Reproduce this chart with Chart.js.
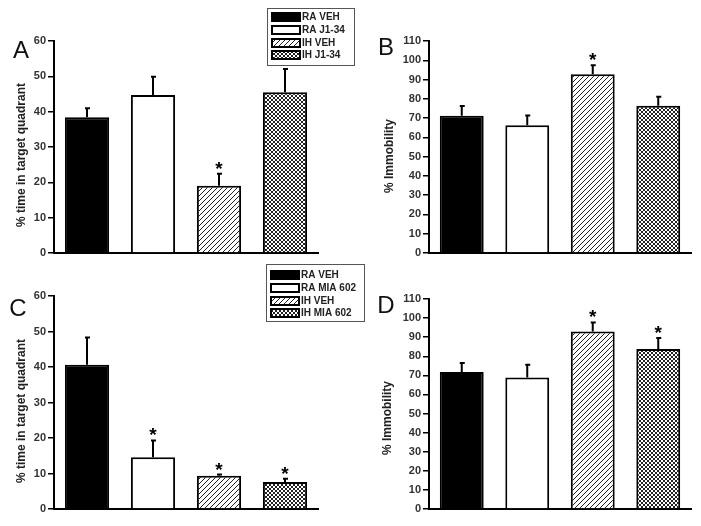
<!DOCTYPE html>
<html>
<head>
<meta charset="utf-8">
<script src="https://cdn.jsdelivr.net/npm/chart.js@4.4.1/dist/chart.umd.min.js"></script>
<style>
  body { margin: 0; background: #fff; width: 701px; height: 526px; position: relative; overflow: hidden; }
  canvas { position: absolute; }
</style>
</head>
<body>
<canvas id="panelA" width="370" height="263" style="left:0;top:0"></canvas>
<canvas id="panelC" width="370" height="263" style="left:0;top:263px"></canvas>
<canvas id="panelB" width="351" height="263" style="left:350px;top:0"></canvas>
<canvas id="panelD" width="351" height="263" style="left:350px;top:263px"></canvas>
<script>
// groups
const groupsJ134 = ['RA VEH', 'RA J1-34', 'IH VEH', 'IH J1-34'];
const groupsMia = ['RA VEH', 'RA MIA 602', 'IH VEH', 'IH MIA 602'];

// A: % time in target quadrant (J1-34)
const quadrantJ134 = [38.4, 44.7, 19.0, 45.5];
const quadrantJ134Err = [2.6, 5.2, 3.4, 6.6];
const quadrantJ134Sig = [false, false, true, false];

// B: % immobility (J1-34)
const immobilityJ134 = [71.2, 66.3, 92.7, 76.4];
const immobilityJ134Err = [5.1, 5.1, 4.7, 4.7];
const immobilityJ134Sig = [false, false, true, false];

// C: % time in target quadrant (MIA 602)
const quadrantMia = [40.6, 14.6, 9.4, 7.6];
const quadrantMiaErr = [7.7, 4.7, 0.3, 0.9];
const quadrantMiaSig = [false, true, true, true];

// D: % immobility (MIA 602)
const immobilityMia = [71.8, 68.9, 93.0, 83.8];
const immobilityMiaErr = [4.7, 6.7, 4.7, 5.8];
const immobilityMiaSig = [false, false, true, true];

// tick labels
const quadrantTicks = [0, 10, 20, 30, 40, 50, 60];
const immobilityTicks = [0, 10, 20, 30, 40, 50, 60, 70, 80, 90, 100, 110];

const FONT = '"Liberation Sans", Arial, sans-serif';

function makePattern(size, draw) {
  const c = document.createElement('canvas');
  c.width = size; c.height = size;
  const g = c.getContext('2d');
  g.fillStyle = '#fff';
  g.fillRect(0, 0, size, size);
  g.strokeStyle = '#222';
  g.lineWidth = 1;
  draw(g, size);
  return c.getContext('2d').createPattern(c, 'repeat');
}

const hatch = makePattern(5, (g, s) => {
  g.beginPath();
  g.moveTo(-1, s + 1); g.lineTo(s + 1, -1);
  g.moveTo(-1, 1); g.lineTo(1, -1);
  g.moveTo(s - 1, s + 1); g.lineTo(s + 1, s - 1);
  g.stroke();
});

const crossHatch = makePattern(4, (g, s) => {
  g.beginPath();
  g.moveTo(-1, s + 1); g.lineTo(s + 1, -1);
  g.moveTo(-1, -1); g.lineTo(s + 1, s + 1);
  g.stroke();
});

const barFills = ['#000', '#fff', hatch, crossHatch];

const extras = {
  id: 'extras',
  afterDatasetsDraw(chart, args, opts) {
    const ctx = chart.ctx;
    const y = chart.scales.y;
    const data = chart.data.datasets[0].data;
    ctx.save();
    chart.getDatasetMeta(0).data.forEach((bar, i) => {
      const top = y.getPixelForValue(data[i] + opts.errors[i]);
      ctx.strokeStyle = '#000';
      ctx.lineWidth = 2;
      ctx.beginPath();
      ctx.moveTo(bar.x, bar.y);
      ctx.lineTo(bar.x, top);
      ctx.moveTo(bar.x - 2, top);
      ctx.lineTo(bar.x + 3, top);
      ctx.stroke();
      if (opts.stars[i]) {
        ctx.fillStyle = '#000';
        ctx.font = 'bold 19px ' + FONT;
        ctx.textAlign = 'center';
        ctx.textBaseline = 'alphabetic';
        ctx.fillText('*', bar.x, top + 1);
      }
    });
    ctx.restore();
  },
  afterDraw(chart, args, opts) {
    const ctx = chart.ctx;
    ctx.save();
    // panel letter
    ctx.fillStyle = '#111';
    ctx.font = '24px ' + FONT;
    ctx.textAlign = 'center';
    ctx.textBaseline = 'middle';
    ctx.fillText(opts.letter.text, opts.letter.x, opts.letter.y);
    // y title
    ctx.translate(opts.title.x, opts.title.y);
    ctx.rotate(-Math.PI / 2);
    ctx.font = 'bold 12px ' + FONT;
    ctx.fillStyle = '#222';
    ctx.fillText(opts.title.text, 0, 0);
    ctx.restore();

    const lg = opts.legend;
    if (!lg) return;
    ctx.save();
    ctx.strokeStyle = '#555';
    ctx.lineWidth = 1;
    ctx.strokeRect(lg.x + 0.5, lg.y + 0.5, lg.w, lg.h);
    chart.data.labels.forEach((label, i) => {
      const cy = lg.rows[i];
      ctx.fillStyle = barFills[i];
      ctx.fillRect(lg.x + 5, cy - 4, 28, 8);
      ctx.strokeStyle = '#000';
      ctx.lineWidth = 2;
      ctx.strokeRect(lg.x + 5, cy - 4, 28, 8);
      ctx.fillStyle = '#222';
      ctx.font = 'bold 10px ' + FONT;
      ctx.textAlign = 'left';
      ctx.textBaseline = 'middle';
      ctx.fillText(label, lg.x + 35, cy + 0.5);
    });
    ctx.restore();
  }
};

function makePanel(id, labels, values, errors, stars, ticks, area, extraOpts) {
  const canvas = document.getElementById(id);
  const W = canvas.width, H = canvas.height;
  return new Chart(canvas, {
    type: 'bar',
    data: {
      labels: labels,
      datasets: [{
        data: values,
        backgroundColor: barFills,
        borderColor: '#000',
        borderWidth: 2,
        barPercentage: 0.67,
        categoryPercentage: 1
      }]
    },
    options: {
      responsive: false,
      animation: false,
      devicePixelRatio: 1,
      layout: { padding: { left: 0, top: area.top, right: W - area.right, bottom: H - area.bottom } },
      plugins: {
        legend: { display: false },
        tooltip: { enabled: false },
        extras: Object.assign({ errors: errors, stars: stars }, extraOpts)
      },
      scales: {
        x: {
          grid: { display: false },
          ticks: { display: false },
          border: { display: true, color: '#000', width: 2 },
          afterFit: s => { s.height = 0; }
        },
        y: {
          min: ticks[0],
          max: ticks[ticks.length - 1],
          ticks: {
            stepSize: ticks[1] - ticks[0],
            autoSkip: false,
            padding: 2,
            color: '#333',
            font: { family: FONT, size: 11, weight: 'bold' }
          },
          grid: { drawOnChartArea: false, drawTicks: true, tickLength: 6, color: '#000', lineWidth: 1.5 },
          border: { display: true, color: '#000', width: 2 },
          afterFit: s => { s.width = area.left; }
        }
      }
    },
    plugins: [extras]
  });
}

makePanel('panelA', groupsJ134, quadrantJ134, quadrantJ134Err, quadrantJ134Sig, quadrantTicks,
  { left: 54, right: 318, top: 41, bottom: 253 },
  { letter: { text: 'A', x: 21, y: 51 }, title: { text: '% time in target quadrant', x: 22, y: 155 },
    legend: { x: 267, y: 8, w: 87, h: 57, rows: [17, 30, 43, 55] } });

makePanel('panelB', groupsJ134, immobilityJ134, immobilityJ134Err, immobilityJ134Sig, immobilityTicks,
  { left: 79, right: 341, top: 41, bottom: 253 },
  { letter: { text: 'B', x: 36, y: 48 }, title: { text: '% Immobility', x: 40, y: 156 } });

makePanel('panelC', groupsMia, quadrantMia, quadrantMiaErr, quadrantMiaSig, quadrantTicks,
  { left: 54, right: 318, top: 33, bottom: 246 },
  { letter: { text: 'C', x: 18, y: 46 }, title: { text: '% time in target quadrant', x: 22, y: 148 },
    legend: { x: 266, y: 1, w: 98, h: 57, rows: [12, 25, 38, 50] } });

makePanel('panelD', groupsMia, immobilityMia, immobilityMiaErr, immobilityMiaSig, immobilityTicks,
  { left: 79, right: 341, top: 36, bottom: 246 },
  { letter: { text: 'D', x: 36, y: 43 }, title: { text: '% Immobility', x: 38, y: 155 } });
</script>
</body>
</html>
